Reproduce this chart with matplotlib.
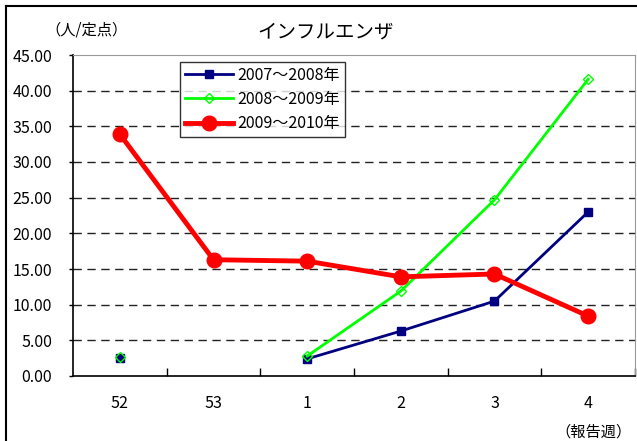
import numpy as np
import matplotlib.pyplot as plt
from matplotlib.lines import Line2D

plt.rcParams['font.family'] = ['Noto Sans CJK JP', 'DejaVu Sans']

# data
weeks = ["52", "53", "1", "2", "3", "4"]
s0708 = [2.5, np.nan, 2.4, 6.3, 10.5, 23.0]
s0809 = [2.6, np.nan, 2.8, 11.9, 24.7, 41.6]
s0910 = [33.9, 16.3, 16.1, 13.9, 14.3, 8.4]
labels = ["2007～2008年", "2008～2009年", "2009～2010年"]
yticks = np.arange(0, 46, 5)

fig = plt.figure(figsize=(6.37, 4.41), dpi=100)
ax = fig.add_axes([73/637, 65/441, 562/637, 321/441])

x = np.arange(len(weeks))
ax.plot(x, s0708, color="#000080", lw=2, marker="s", ms=6, label=labels[0])
ax.plot(x, s0809, color="#00ff00", lw=2, marker="D", ms=5, mfc="none",
        mew=1, label=labels[1])
ax.plot(x, s0910, color="#ff0000", lw=3.5, marker="o", ms=10.5, label=labels[2])

ax.set_xlim(-0.5, len(weeks) - 0.5)
ax.set_ylim(0, 45)
ax.set_yticks(yticks)
ax.set_yticklabels(["%.2f" % v for v in yticks], fontsize=11.5)
ax.set_xticks(x)
ax.set_xticklabels(weeks, fontsize=11.5)
ax.tick_params(axis="x", length=0, pad=14)
ax.tick_params(axis="y", length=3, width=1, pad=12)
# category boundary ticks pointing up
ax.set_xticks(np.arange(0.5, len(weeks), 1), minor=True)
ax.tick_params(axis="x", which="minor", direction="in", length=6, width=1)

for v in yticks[1:-1]:
    ax.axhline(v, color="#222222", lw=1, ls=(0, (6, 4)), zorder=0)

ax.spines["left"].set_linewidth(1.2)
ax.spines["bottom"].set_linewidth(1.2)
ax.spines["top"].set_color("#999999")
ax.spines["right"].set_color("#999999")

leg = ax.legend(loc="upper left", bbox_to_anchor=(107/562, 314/321),
                fontsize=11.5, frameon=True, fancybox=False,
                handlelength=3.0, borderpad=0.3, labelspacing=0.45,
                handletextpad=0.3, borderaxespad=0)
leg.get_frame().set_edgecolor("black")
leg.get_frame().set_linewidth(1)

fig.text(326/637, 1 - 32/441, "インフルエンザ", fontsize=14,
         ha="center", va="center")
fig.text(87/637, 1 - 30/441, "（人/定点）", fontsize=11,
         ha="center", va="center")
fig.text(632/637, 1 - 432/441, "（報告週）", fontsize=11,
         ha="right", va="center")

# outer chart border
fig.add_artist(Line2D([5.5/637, 5.5/637], [0, 1 - 5.5/441],
                      transform=fig.transFigure, color="black", lw=1.5))
fig.add_artist(Line2D([5.5/637, 1], [1 - 5.5/441, 1 - 5.5/441],
                      transform=fig.transFigure, color="black", lw=1.5))

fig.savefig("out.png", dpi=100)
